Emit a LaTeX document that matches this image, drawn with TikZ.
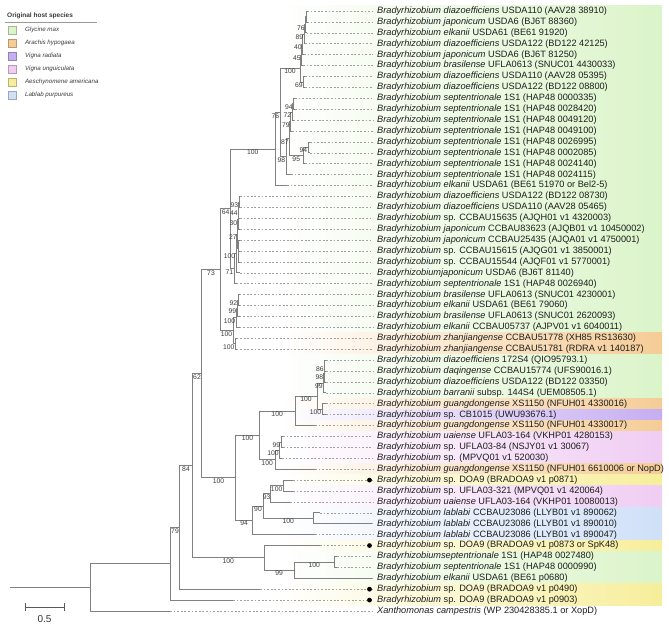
\documentclass[tikz,border=0pt]{standalone}
\usepackage{fontspec}
\setmainfont{Liberation Sans}
\usetikzlibrary{calc,positioning}

\definecolor{glycine}{HTML}{DBF4C9}
\definecolor{arachis}{HTML}{F5CC96}
\definecolor{radiata}{HTML}{C6AEF2}
\definecolor{unguic}{HTML}{F0CDF3}
\definecolor{aeschy}{HTML}{F7EE9B}
\definecolor{lablab}{HTML}{CFE0F7}
\definecolor{treegray}{HTML}{808080}
\definecolor{leadgray}{HTML}{A0A0A0}
\definecolor{bootgray}{HTML}{3A3A3A}
\definecolor{labelblack}{HTML}{1E1E1E}

\tikzset{
	br/.style={draw=treegray, line width=0.75pt},
	lead/.style={draw=leadgray, line width=0.5pt, dash pattern=on 1.8pt off 1.8pt},
	leaf/.style={anchor=west, inner xsep=4pt, inner ysep=0pt, text=labelblack,
		font=\fontsize{9.2}{10}\selectfont},
	boot/.style={midway, below, inner sep=0.6pt, text=bootgray,
		font=\fontsize{6.8}{7}\selectfont},
	bootr/.style={anchor=north east, inner sep=0.6pt, text=bootgray,
		font=\fontsize{6.8}{7}\selectfont},
	hostbox/.style={draw=#1!75!black, fill=#1, line width=0.3pt,
		minimum size=7.5pt, inner sep=0pt},
	hostname/.style={inner sep=1pt, text=bootgray, font=\fontsize{6.2}{7}\selectfont\itshape},
	legtitle/.style={anchor=west, inner sep=1pt, text=bootgray,
		font=\fontsize{6.5}{7}\selectfont\bfseries},
	scalebar/.style={draw=black!65, line width=0.75pt},
}

% internal node: name, x, child, child
\newcommand{\clade}[4]{%
	\path let \p1 = ($(#3)!0.5!(#4)$) in coordinate (#1) at (#2pt,\y1);
	\draw[br] (#1) |- (#3);
	\draw[br] (#1) |- (#4);
}
% support value under the middle of a branch / against its child
\newcommand{\bs}[3]{\path (#1 |- #2) -- (#2) node[boot] (bs-#2) {#3};}
\newcommand{\bsr}[2]{\node[bootr] (bs-#1) at (#1) {#2};}

\begin{document}
\begin{tikzpicture}[x=1pt, y=-1pt]

	\useasboundingbox (0,0) rectangle (669,633);

	% ---- host bands

	\foreach \first/\last/\host in {1/30/glycine, 31/32/arachis, 33/36/glycine,
		37/37/arachis, 38/38/radiata, 39/39/arachis, 40/42/unguic, 43/43/arachis,
		44/44/aeschy, 45/46/unguic, 47/49/lablab, 50/50/aeschy, 51/53/glycine,
		54/55/aeschy} {
		\shade[left color=white, right color=\host]
			(280,{11+(\first-1.5)*10.909}) rectangle (662,{11+(\last-0.5)*10.909});
	}

	% ---- legend

	\node[legtitle] (legtitle) at (6,15.5) {Original host species};
	\coordinate (legl) at (5,22);
	\coordinate (legr) at (97,22);
	\draw[draw=black!40, line width=0.4pt] (legl) -- (legr);
	\foreach \host/\name [count=\k] in {glycine/Glycine max, arachis/Arachis hypogaea,
		radiata/Vigna radiata, unguic/Vigna unguiculata,
		aeschy/Aeschynomene americana, lablab/Lablab purpureus} {
		\node[hostbox=\host] (box\k) at (12,{30+(\k-1)*13}) {};
		\node[hostname, right=8pt of box\k] (name\k) {\name};
	}

	% ---- leaves

	\foreach \n/\tip/\spc/\strain in {
		1/307/Bradyrhizobium diazoefficiens/USDA110 (AAV28 38910),
		2/307/Bradyrhizobium japonicum/USDA6 (BJ6T 88360),
		3/306.5/Bradyrhizobium elkanii/USDA61 (BE61 91920),
		4/305/Bradyrhizobium diazoefficiens/USDA122 (BD122 42125),
		5/304/Bradyrhizobium japonicum/USDA6 (BJ6T 81250),
		6/303/Bradyrhizobium brasilense/UFLA0613 (SNUC01 4430033),
		7/305/Bradyrhizobium diazoefficiens/USDA110 (AAV28 05395),
		8/305/Bradyrhizobium diazoefficiens/USDA122 (BD122 08800),
		9/295/Bradyrhizobium septentrionale/1S1 (HAP48 0000335),
		10/295/Bradyrhizobium septentrionale/1S1 (HAP48 0028420),
		11/293.5/Bradyrhizobium septentrionale/1S1 (HAP48 0049120),
		12/292/Bradyrhizobium septentrionale/1S1 (HAP48 0049100),
		13/310/Bradyrhizobium septentrionale/1S1 (HAP48 0026995),
		14/310/Bradyrhizobium septentrionale/1S1 (HAP48 0002085),
		15/305/Bradyrhizobium septentrionale/1S1 (HAP48 0024140),
		16/291/Bradyrhizobium septentrionale/1S1 (HAP48 0024115),
		17/287/Bradyrhizobium elkanii/USDA61 (BE61 51970 or Bel2-5),
		18/240/Bradyrhizobium diazoefficiens/USDA122 (BD122 08730),
		19/240/Bradyrhizobium diazoefficiens/USDA110 (AAV28 05465),
		20/240/Bradyrhizobium/sp. CCBAU15635 (AJQH01 v1 4320003),
		21/240/Bradyrhizobium japonicum/CCBAU83623 (AJQB01 v1 10450002),
		22/240/Bradyrhizobium japonicum/CCBAU25435 (AJQA01 v1 4750001),
		23/240/Bradyrhizobium/sp. CCBAU15615 (AJQG01 v1 3850001),
		24/240/Bradyrhizobium/sp. CCBAU15544 (AJQF01 v1 5770001),
		25/240/Bradyrhizobiumjaponicum/USDA6 (BJ6T 81140),
		26/236.5/Bradyrhizobium septentrionale/1S1 (HAP48 0026940),
		27/239.5/Bradyrhizobium brasilense/UFLA0613 (SNUC01 4230001),
		28/239.5/Bradyrhizobium elkanii/USDA61 (BE61 79060),
		29/239.5/Bradyrhizobium brasilense/UFLA0613 (SNUC01 2620093),
		30/239.5/Bradyrhizobium elkanii/CCBAU05737 (AJPV01 v1 6040011),
		31/236.5/Bradyrhizobium zhanjiangense/CCBAU51778 (XH85 RS13630),
		32/236.5/Bradyrhizobium zhanjiangense/CCBAU51781 (RDRA v1 140187),
		33/326/Bradyrhizobium diazoefficiens/172S4 (QIO95793.1),
		34/326/Bradyrhizobium daqingense/CCBAU15774 (UFS90016.1),
		35/326/Bradyrhizobium diazoefficiens/USDA122 (BD122 03350),
		36/326/Bradyrhizobium barranii/subsp. 144S4 (UEM08505.1),
		37/326/Bradyrhizobium guangdongense/XS1150 (NFUH01 4330016),
		38/326/Bradyrhizobium/sp. CB1015 (UWU93676.1),
		39/315/Bradyrhizobium guangdongense/XS1150 (NFUH01 4330017),
		40/283/Bradyrhizobium uaiense/UFLA03-164 (VKHP01 4280153),
		41/283/Bradyrhizobium/sp. UFLA03-84 (NSJY01 v1 30067),
		42/282/Bradyrhizobium/sp. (MPVQ01 v1 520030),
		43/315/Bradyrhizobium guangdongense/XS1150 (NFUH01 6610006 or NopD),
		44/293/Bradyrhizobium/sp. DOA9 (BRADOA9 v1 p0871),
		45/293/Bradyrhizobium/sp. UFLA03-321 (MPVQ01 v1 420064),
		46/290/Bradyrhizobium uaiense/UFLA03-164 (VKHP01 10080013),
		47/320/Bradyrhizobium lablabi/CCBAU23086 (LLYB01 v1 890062),
		48/372/Bradyrhizobium lablabi/CCBAU23086 (LLYB01 v1 890010),
		49/315/Bradyrhizobium lablabi/CCBAU23086 (LLYB01 v1 890047),
		50/320/Bradyrhizobium/sp. DOA9 (BRADOA9 v1 p0873 or SpK48),
		51/337/Bradyrhizobiumseptentrionale/1S1 (HAP48 0027480),
		52/337/Bradyrhizobium septentrionale/1S1 (HAP48 0000990),
		53/372/Bradyrhizobium elkanii/USDA61 (BE61 p0680),
		54/260/Bradyrhizobium/sp. DOA9 (BRADOA9 v1 p0490),
		55/233/Bradyrhizobium/sp. DOA9 (BRADOA9 v1 p0903),
		56/170/Xanthomonas campestris/(WP 230428385.1 or XopD)} {
		\coordinate (T\n) at (\tip,{11+(\n-1)*10.909});
		\node[leaf] (L\n) at (373,{11+(\n-1)*10.909}) {\textit{\spc} \strain};
		\draw[lead] (T\n) -- (L\n.west);
	}

	\foreach \n in {44,50,54,55} { \fill[black] (L\n.west) ++(-3.5,0) circle (2.4pt); }

	% ---- Glycine clade

	\clade{ga}{306.5}{T1}{T2}
	\clade{gb}{305.5}{ga}{T3}
	\clade{gc}{304}{gb}{T4}
	\clade{gd}{302.5}{gc}{T5}
	\clade{ge}{301.5}{gd}{T6}
	\clade{gf}{303.5}{T7}{T8}
	\clade{g}{300}{ge}{gf}
	\clade{sa}{293.5}{T9}{T10}
	\clade{sb}{292}{sa}{T11}
	\clade{sc}{290.5}{sb}{T12}
	\clade{sd}{308}{T13}{T14}
	\clade{se}{303}{sd}{T15}
	\clade{sf}{289.5}{sc}{se}
	\clade{s}{286}{sf}{T16}
	\clade{k1}{280}{g}{s}
	\clade{k}{275}{k1}{T17}
	\clade{ma}{239}{T18}{T19}
	\clade{mb}{238.5}{ma}{T20}
	\clade{mc}{238}{mb}{T21}
	\clade{md}{238.5}{T23}{T24}
	\clade{me}{238}{T22}{md}
	\clade{mf}{237.5}{mc}{me}
	\clade{mg}{236}{mf}{T25}
	\clade{m}{234}{mg}{T26}
	\clade{j}{230.7}{k}{m}
	\clade{na}{238}{T27}{T28}
	\clade{nb}{237}{na}{T29}
	\clade{nc}{236}{nb}{T30}
	\clade{nd}{235.3}{T31}{T32}
	\clade{n}{233}{nc}{nd}
	\clade{i}{220.7}{j}{n}

	% ---- Vigna / Lablab clade

	\clade{qa}{324.5}{T33}{T34}
	\clade{qb}{324}{qa}{T35}
	\clade{qc}{323.5}{qb}{T36}
	\clade{qd}{322}{T37}{T38}
	\clade{q}{317}{qc}{qd}
	\clade{h11}{295}{q}{T39}
	\clade{ra}{281}{T40}{T41}
	\clade{rb}{279.5}{ra}{T42}
	\clade{h12}{275}{rb}{T43}
	\clade{h1}{259.3}{h11}{h12}
	\clade{ua}{283.3}{T44}{T45}
	\clade{ub}{270}{ua}{T46}
	\clade{uc}{313.3}{T47}{T48}
	\clade{h21}{263.3}{ub}{uc}
	\clade{h2}{252.7}{h21}{T49}
	\clade{h}{235.7}{h1}{h2}
	\clade{d}{201.3}{i}{h}

	% ---- basal part

	\clade{f1}{334.3}{T51}{T52}
	\clade{f}{294.3}{f1}{T53}
	\clade{e}{264}{T50}{f}
	\clade{c}{192.7}{d}{e}
	\clade{b}{179.3}{c}{T54}
	\clade{a}{170.7}{b}{T55}
	\clade{root}{90}{a}{T56}

	\path let \p1 = (root) in coordinate (stem) at (10pt,\y1);
	\draw[br] (stem) -- (root);

	% ---- support values

	\bsr{gb}{76} \bsr{gc}{89} \bsr{gd}{40} \bsr{ge}{45} \bsr{gf}{69}
	\bs{k1}{g}{100}
	\bsr{sa}{94} \bsr{sb}{72} \bsr{sc}{79} \bsr{sd}{94}
	\bs{sf}{se}{95}
	\bsr{sf}{87} \bsr{s}{98} \bsr{k1}{76}
	\bs{j}{k}{100}
	\bsr{ma}{93} \bsr{mb}{44} \bsr{mc}{30} \bsr{mf}{27} \bsr{mg}{100} \bsr{m}{71}
	\bs{i}{j}{64}
	\bsr{na}{92} \bsr{nb}{99} \bsr{nc}{100} \bsr{nd}{100} \bsr{n}{100}
	\bs{d}{i}{73}
	\bsr{qa}{86} \bsr{qb}{98} \bsr{qc}{99} \bsr{qd}{100}
	\bs{h11}{q}{100}
	\bs{h1}{h11}{100}
	\bsr{ra}{99} \bsr{rb}{100}
	\bs{h1}{h12}{100}
	\bs{h}{h1}{100}
	\bs{ub}{ua}{100}
	\bs{h21}{ub}{93}
	\bs{h21}{uc}{100}
	\bs{h2}{h21}{90}
	\bs{h}{h2}{94}
	\bs{d}{h}{100}
	\bs{c}{d}{62}
	\bs{f}{f1}{100}
	\bs{e}{f}{99}
	\bs{c}{e}{100}
	\bs{b}{c}{84}
	\bs{a}{b}{79}

	% ---- scale bar

	\coordinate (sbl) at (25,607);
	\coordinate (sbr) at (64,607);
	\draw[scalebar] (sbl) -- (sbr);
	\draw[scalebar] ($(sbl)+(0,-4)$) -- ($(sbl)+(0,4)$);
	\draw[scalebar] ($(sbr)+(0,-4)$) -- ($(sbr)+(0,4)$);
	\node[font=\fontsize{10}{11}\selectfont, text=black!80] (sbtext)
		at ($(sbl)!0.5!(sbr)+(0,12.5)$) {0.5};

\end{tikzpicture}
\end{document}
